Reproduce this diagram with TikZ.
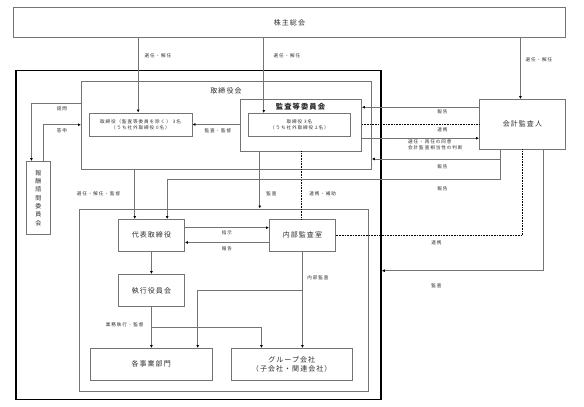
\documentclass[tikz,border=0pt]{standalone}
\usepackage{fontspec}
\setmainfont{Noto Sans CJK JP}
\newfontfamily\jpbox{Noto Sans CJK JP}[LetterSpace=15]
\newfontfamily\jplbl{Noto Sans CJK JP}[LetterSpace=20]
\usetikzlibrary{arrows.meta,calc}
\definecolor{linegray}{HTML}{747474}
\definecolor{textgray}{HTML}{2C2C2C}
\begin{document}
\begin{tikzpicture}[x=1pt,y=-1pt,
  box/.style={draw=linegray, line width=0.9pt, inner sep=0pt, anchor=north west,
    font=\jpbox\fontsize{7}{9}\selectfont, text=textgray, align=center},
  title/.style={font=\jpbox\fontsize{7}{9}\selectfont, text=textgray, inner sep=0pt},
  small/.style={font=\jplbl\fontsize{4.6}{5.6}\selectfont},
  ln/.style={draw=linegray, line width=0.9pt},
  arr/.style={ln, -{Latex[length=3pt,width=3pt,color=black]}},
  dot/.style={draw=black, line width=0.9pt, dash pattern=on 0.9pt off 0.7pt},
  lbl/.style={font=\jplbl\fontsize{4.6}{5.6}\selectfont, text=textgray, inner sep=0pt, align=center}]
\path[use as bounding box, fill=white] (0,0) rectangle (584,407);

% boxes
\node[box, minimum width=552pt, minimum height=30pt] (sh) at (13,7) {株主総会};
\node[draw=black, line width=1.8pt, minimum width=365pt, minimum height=329pt,
  anchor=north west, inner sep=0pt] (outer) at (15,69.5) {};
\node[box, minimum width=290pt, minimum height=88pt] (bod) at (81,81) {};
\node[title] (bodt) at (226,91) {取締役会};
\node[box, small, minimum width=103pt, minimum height=23pt] (dir) at (88.5,112.5)
  {取締役（監査等委員を除く） 3名\\（うち社外取締役 0名）};
\node[box, minimum width=121pt, minimum height=51.5pt] (ac) at (240,99) {};
\node[title, font=\jpbox\bfseries\fontsize{7.3}{9}\selectfont] (act) at (300.5,107) {監査等委員会};
\node[box, small, minimum width=102pt, minimum height=23pt] (acin) at (248,113)
  {取締役 3名\\（うち社外取締役 2名）};
\node[box, font=\jpbox\fontsize{6}{8.3}\selectfont, minimum width=24pt, minimum height=73pt] (comp) at (26,161)
  {報\\酬\\諮\\問\\委\\員\\会};
\node[box, minimum width=289pt, minimum height=182.5pt] (exec) at (79,208.5) {};
\node[box, minimum width=66pt, minimum height=31.5pt] (rep) at (118,219) {代表取締役};
\node[box, minimum width=66pt, minimum height=31.5pt] (ia) at (269,219) {内部監査室};
\node[box, minimum width=66pt, minimum height=32pt] (eo) at (118,274) {執行役員会};
\node[box, minimum width=121.5pt, minimum height=31.5pt] (bu) at (90,348) {各事業部門};
\node[box, minimum width=121.5pt, minimum height=31.5pt] (gc) at (230.5,348) {グループ会社\\（子会社・関連会社）};
\node[box, minimum width=86pt, minimum height=49.5pt] (aud) at (479,99) {会計監査人};

\coordinate (yrep) at (0,179);
\coordinate (ybod) at (0,159);
\coordinate (yout) at (0,270.7);
\coordinate (ybr) at (0,327.7);
\coordinate (ybr2) at (0,290);

% from shareholders
\draw[arr] ([xshift=-2.3pt]dir.north |- sh.south) -- ([xshift=-2.3pt]dir.north);
\draw[arr] ([xshift=-35.7pt]acin.north |- sh.south) -- ([xshift=-35.7pt]acin.north);
\draw[arr] ([xshift=-2pt]aud.north |- sh.south) -- ([xshift=-2pt]aud.north);
\node[lbl] (l1) at (158,56) {選任・解任};
\node[lbl] (l2) at (287,56) {選任・解任};
\node[lbl] (l3) at (539,60) {選任・解任};

% board internals
\draw[arr] (ac.west |- dir.east) -- (dir.east);
\node[lbl] (l4) at (218,131) {監査・監督};
\draw[arr] ([yshift=22.3pt]bod.west) -| ([xshift=-7pt]comp.north);
\node[lbl] (l5) at (62,108.3) {諮問};
\draw[arr] ([xshift=5.3pt]comp.north) |- ([yshift=0.7pt]bod.west);
\node[lbl] (l6) at (62,130.7) {答申};

% down to executive area
\draw[arr] ([xshift=-16.7pt]rep.north |- bod.south) -- ([xshift=-16.7pt]rep.north);
\node[lbl] (l7) at (98.5,193.3) {選任・解任・監督};
\draw[arr] ([xshift=-41.2pt]ac.south) -- ([xshift=-41.2pt]ac.south |- exec.north);
\node[lbl] (l8) at (271.5,193.3) {監査};
\draw[dot] (ac.south) -- (ac.south |- ia.north);
\node[lbl] (l9) at (322.7,193.3) {連携・補助};

% auditor links
\draw[arr] ([yshift=17pt]aud.west) -- ([yshift=17pt]aud.west -| ac.east);
\node[lbl] (l10) at (442.5,111.7) {報告};
\draw[dot] (ac.east |- aud.west) -- (aud.west);
\node[lbl] (l11) at (442.5,130) {連携};
\draw[arr] ([yshift=-14pt]aud.west -| ac.east) -- ([yshift=-14pt]aud.west);
\node[lbl, align=left, anchor=west] (l12) at (408,144.8) {選任・再任の同意\\会計監査相当性の判断};
\draw[arr] ([xshift=-22pt]aud.south) |- ([xshift=15.7pt]rep.north |- yrep) -- ([xshift=15.7pt]rep.north);
\draw[arr] ([xshift=-22pt]aud.south |- ybod) -- (bod.east |- ybod);
\node[lbl] (l13) at (442.5,166.7) {報告};
\node[lbl] (l14) at (442.5,188.3) {報告};
\draw[dot] (aud.south) |- (ia.east);
\node[lbl] (l15) at (436.5,242.7) {連携};
\draw[arr] ([xshift=20.7pt]aud.south) |- (outer.east |- yout);
\node[lbl] (l16) at (436.5,286) {監査};

% executive area
\draw[arr] ([yshift=7.5pt]rep.east) -- ([yshift=7.5pt]rep.east -| ia.west);
\node[lbl] (l17) at (227,232.7) {指示};
\draw[arr] ([yshift=-7.25pt]ia.west) -- ([yshift=-7.25pt]ia.west -| rep.east);
\node[lbl] (l18) at (227,248.3) {報告};
\draw[arr] (rep.south) -- (eo.north);
\draw[arr] (eo.south) -- (eo.south |- bu.north);
\draw[arr] (eo.south |- ybr) -| ([xshift=-30.25pt]gc.north);
\node[lbl] (l19) at (124.7,324.7) {業務執行・監督};
\draw[arr] (ia.south) -- (ia.south |- gc.north);
\draw[arr] (ia.south |- ybr2) -| ([xshift=46.5pt]bu.north);
\node[lbl] (l20) at (318,277.7) {内部監査};
\end{tikzpicture}
\end{document}
